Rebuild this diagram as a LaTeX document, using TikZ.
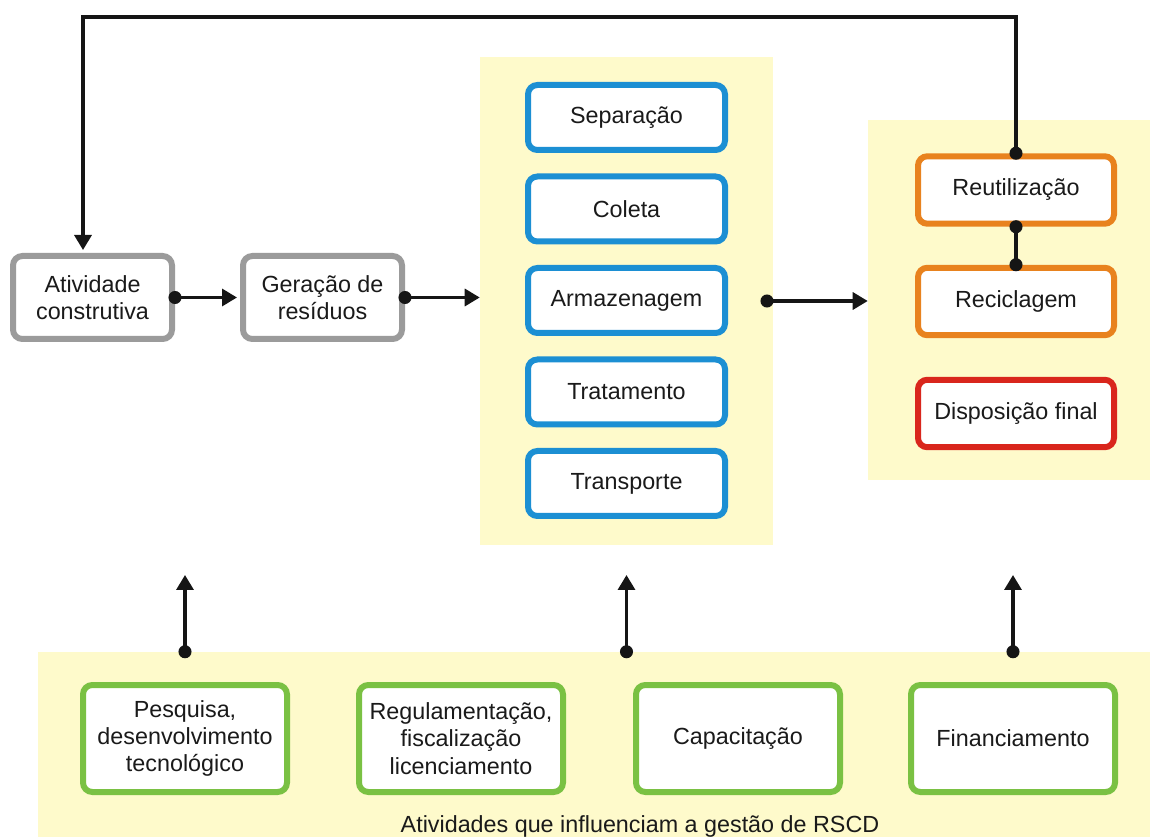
\documentclass[tikz,border=0pt]{standalone}
\usepackage{fontspec}
\setmainfont{Liberation Sans}
\usetikzlibrary{arrows.meta}
\definecolor{panelyellow}{HTML}{FEFACB}
\definecolor{boxgray}{HTML}{9B9B9B}
\definecolor{boxblue}{HTML}{1C8FD3}
\definecolor{boxorange}{HTML}{E8821E}
\definecolor{boxred}{HTML}{D9261C}
\definecolor{boxgreen}{HTML}{7AC143}
\definecolor{linecol}{HTML}{151515}
\definecolor{textcol}{HTML}{1A1A1A}
\begin{document}
\begin{tikzpicture}[x=0.75pt,y=-0.75pt,
  box/.style={draw, rounded corners=7pt, line width=4.5pt, fill=white,
    align=center, text=textcol, inner sep=0pt,
    font=\fontsize{17.5pt}{20.5pt}\selectfont},
  graybox/.style={box, draw=boxgray, minimum width=119.25pt, minimum height=62.25pt},
  bluebox/.style={box, draw=boxblue, minimum width=147.75pt, minimum height=48.75pt},
  orangebox/.style={box, draw=boxorange, minimum width=147pt, minimum height=50.6pt},
  redbox/.style={box, draw=boxred, minimum width=147pt, minimum height=50.6pt},
  greenbox/.style={box, draw=boxgreen, minimum width=153pt, minimum height=80.25pt},
  panel/.style={fill=panelyellow, draw=none, inner sep=0pt},
  conn/.style={line width=2.5pt, draw=linecol},
  arr/.style={conn, -{Triangle[length=11.25pt, width=12.75pt]}},
  dot/.style={fill=linecol}
]
\useasboundingbox (0,0) rectangle (1150,837);

% yellow background panels
\node[panel, minimum width=219.75pt, minimum height=366pt] (mid) at (626.5,301) {};
\node[panel, minimum width=211.5pt, minimum height=270pt] (rgt) at (1009,300) {};
\node[panel, minimum width=834pt, minimum height=138.75pt] (bot) at (594,744.5) {};

% construction chain
\node[graybox] (atv) at (92.5,297.5) {Atividade\\construtiva};
\node[graybox] (ger) at (322.5,297.5) {Geração de\\resíduos};

% handling steps
\node[bluebox] (sep) at (626.5,117.5) {Separação};
\node[bluebox] (col) at (626.5,209) {Coleta};
\node[bluebox] (arm) at (626.5,300.5) {Armazenagem};
\node[bluebox] (tra) at (626.5,392) {Tratamento};
\node[bluebox] (trp) at (626.5,483.5) {Transporte};

% destinations
\node[orangebox] (reu) at (1016,190) {Reutilização};
\node[orangebox] (rec) at (1016,301.5) {Reciclagem};
\node[redbox] (dis) at (1016,413.5) {Disposição final};

% supporting activities
\node[greenbox] (pes) at (185,738.5) {Pesquisa,\\desenvolvimento\\tecnológico};
\node[greenbox] (reg) at (461,738.5) {Regulamentação,\\fiscalização\\licenciamento};
\node[greenbox] (cap) at (738,738.5) {Capacitação};
\node[greenbox] (fin) at (1013,738.5) {Financiamento};
\node[anchor=base, text=textcol, inner sep=0pt,
  font=\fontsize{17.5pt}{20.5pt}\selectfont] (lbl) at (640,832)
  {Atividades que influenciam a gestão de RSCD};

% feedback loop from reuse back to construction
\coordinate (loopR) at (1016,17);
\coordinate (loopL) at (83,17);
\draw[arr, shorten >=2.25pt] (reu.north) -- (loopR) -- (loopL) -- (loopL |- atv.north);
\fill[dot] (reu.north) circle (4.9pt);

% main flow
\draw[arr, shorten >=2.25pt] (atv.east) -- (ger.west);
\fill[dot] (atv.east) circle (4.9pt);
\draw[arr] (ger.east) -- (ger.east -| mid.west);
\fill[dot] (ger.east) circle (4.9pt);
\coordinate (m3) at (767,301);
\draw[arr] (m3) -- (m3 -| rgt.west);
\fill[dot] (m3) circle (4.9pt);

% reuse to recycling link
\draw[conn] (reu.south) -- (rec.north);
\fill[dot] (reu.south) circle (4.9pt);
\fill[dot] (rec.north) circle (4.9pt);

% influences from the bottom panel
\coordinate (uy) at (0,575);
\draw[arr] (pes.north |- bot.north) -- (pes.north |- uy);
\fill[dot] (pes.north |- bot.north) circle (4.9pt);
\draw[arr] (sep.north |- bot.north) -- (sep.north |- uy);
\fill[dot] (sep.north |- bot.north) circle (4.9pt);
\draw[arr] (fin.north |- bot.north) -- (fin.north |- uy);
\fill[dot] (fin.north |- bot.north) circle (4.9pt);
\end{tikzpicture}
\end{document}
